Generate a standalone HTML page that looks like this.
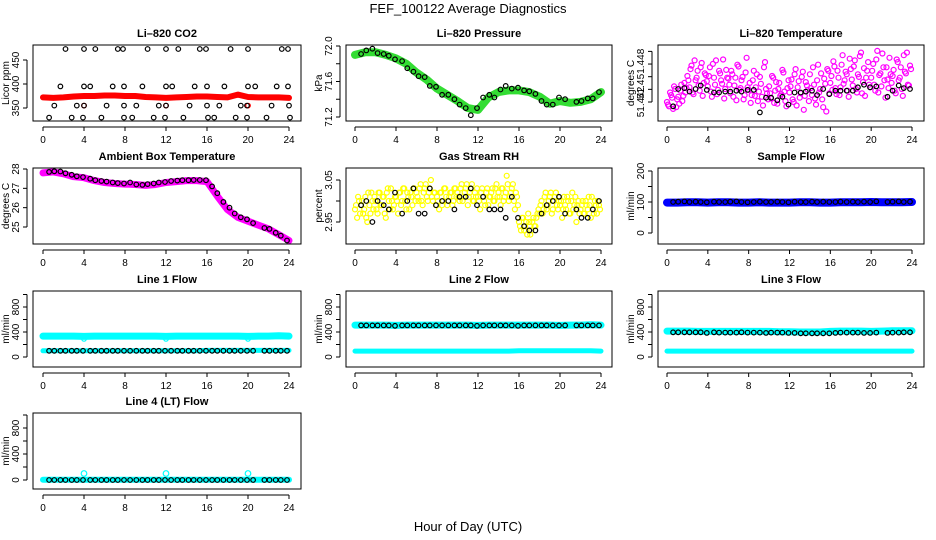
<!DOCTYPE html>
<html><head><meta charset="utf-8">
<style>
html,body{margin:0;padding:0;background:#fff;}
svg{display:block;font-family:"Liberation Sans",Arial,sans-serif;}
.tk{font-size:10px;}
.tt{font-size:11px;font-weight:bold;}
</style></head>
<body>
<svg id="chart" width="936" height="540" viewBox="0 0 936 540" xmlns="http://www.w3.org/2000/svg">
<rect x="0" y="0" width="936" height="540" fill="#fff"/>
<text x="468" y="13" text-anchor="middle" font-size="13">FEF_100122  Average Diagnostics</text>
<text x="468" y="531" text-anchor="middle" font-size="13">Hour of Day (UTC)</text>
</svg>
<script>
// ---- data ----
const xTicks = [0,4,8,12,16,20,24];
const bandHours = [0,1,2,3,4,5,6,7,8,9,10,11,12,13,14,15,16,17,18,19,20,21,22,23,24];
const blackHours = [0.6,1.1,1.7,2.2,2.8,3.3,3.9,4.6,5.1,5.7,6.2,6.8,7.3,7.9,8.5,9.1,9.7,10.2,10.8,11.3,11.9,12.5,13.1,13.6,14.2,14.7,15.3,15.9,16.5,17.0,17.6,18.2,18.7,19.3,19.9,20.5,21.6,22.1,22.7,23.2,23.8];

const co2Band = [372,371,372,374,375,375,376,376,375,375,373,372,371,372,373,374,374,373,372,378,373,372,372,372,371];
const co2Hours = [2.2,4.0,5.1,7.3,7.8,10.2,12.0,13.2,15.3,15.9,18.3,20.0,23.3,23.9, 1.7,4.0,4.6,6.8,7.9,9.7,12.0,12.6,14.8,16.0,17.7,20.0,20.7,22.8,23.9, 1.1,3.3,4.0,6.2,7.9,9.1,11.3,12.0,14.3,16.0,17.2,19.3,19.9,22.3,24.0, 0.6,2.8,3.9,5.7,7.9,8.7,10.8,11.9,13.7,16.1,16.7,18.8,19.9,21.8,24.1];
const co2Vals = [473,473,473,473,473,473,473,473,473,473,473,473,473,473, 395,395,395,395,395,395,395,395,395,395,395,395,395,395,395, 355,355,355,355,355,355,355,355,355,355,355,355,355,355,355, 330,330,330,330,330,330,330,330,330,330,330,330,330,330,330];

const presBand = [71.9,71.93,71.93,71.9,71.86,71.8,71.7,71.62,71.52,71.45,71.38,71.3,71.28,71.42,71.48,71.5,71.5,71.48,71.43,71.35,71.38,71.36,71.37,71.4,71.48];
const presBlack = [71.91,71.95,71.97,71.92,71.91,71.89,71.85,71.83,71.75,71.71,71.66,71.65,71.55,71.54,71.45,71.45,71.40,71.34,71.30,71.22,71.30,71.42,71.45,71.42,71.51,71.55,71.52,71.53,71.50,71.49,71.46,71.38,71.34,71.34,71.42,71.40,71.37,71.38,71.41,71.41,71.48];

const tempVals = [51.4430,51.4425,51.4438,51.4422,51.4445,51.4433,51.4428,51.4450,51.4437,51.4441,
51.4460,51.4447,51.4472,51.4439,51.4455,51.4466,51.4443,51.4475,51.4452,51.4461,
51.4448,51.4470,51.4436,51.4458,51.4478,51.4444,51.4463,51.4451,51.4434,51.4467,
51.4457,51.4440,51.4462,51.4449,51.4432,51.4471,51.4446,51.4459,51.4438,51.4481,
51.4444,51.4429,51.4455,51.4437,51.4462,51.4442,51.4451,51.4426,51.4476,51.4440,
51.4448,51.4434,51.4458,51.4443,51.4428,51.4452,51.4439,51.4464,51.4431,51.4446,
51.4441,51.4456,51.4430,51.4468,51.4447,51.4435,51.4459,51.4421,51.4453,51.4444,
51.4462,51.4438,51.4450,51.4427,51.4473,51.4445,51.4433,51.4457,51.4419,51.4466,
51.4452,51.4444,51.4471,51.4439,51.4458,51.4447,51.4484,51.4455,51.4462,51.4436,
51.4468,51.4449,51.4478,51.4441,51.4459,51.4487,51.4453,51.4437,51.4466,51.4450,
51.4458,51.4474,51.4443,51.4489,51.4461,51.4448,51.4470,51.4435,51.4456,51.4481,
51.4452,51.4467,51.4440,51.4476,51.4458,51.4445,51.4484,51.4463,51.4450,51.4472];
const tempVals2 = [51.4427,51.4441,51.4435,51.4448,51.4424,51.4436,51.4443,51.4431,51.4452,51.4446,
51.4455,51.4468,51.4441,51.4478,51.4458,51.4449,51.4470,51.4437,51.4463,51.4454,
51.4460,51.4442,51.4474,51.4450,51.4439,51.4466,51.4455,51.4479,51.4445,51.4458,
51.4450,51.4466,51.4436,51.4458,51.4473,51.4444,51.4455,51.4433,51.4464,51.4447,
51.4452,51.4438,51.4466,51.4447,51.4431,51.4459,51.4436,51.4470,51.4445,51.4433,
51.4440,51.4460,51.4429,51.4453,51.4445,51.4437,51.4467,51.4442,51.4425,51.4455,
51.4448,51.4433,51.4462,51.4426,51.4454,51.4440,51.4465,51.4437,51.4449,51.4431,
51.4446,51.4470,51.4434,51.4455,51.4441,51.4463,51.4424,51.4451,51.4468,51.4440,
51.4460,51.4477,51.4446,51.4466,51.4438,51.4473,51.4451,51.4465,51.4443,51.4480,
51.4456,51.4471,51.4445,51.4462,51.4483,51.4440,51.4469,51.4458,51.4476,51.4447,
51.4466,51.4450,51.4479,51.4441,51.4463,51.4486,51.4455,51.4470,51.4446,51.4462,
51.4460,51.4443,51.4479,51.4455,51.4470,51.4437,51.4465,51.4487,51.4449,51.4468];
const tempBlack = [51.4425,51.4445,51.4446,51.4442,51.4445,51.4449,51.4444,51.4441,51.4441,51.4442,51.4442,51.4443,51.4442,51.4444,51.4444,51.4418,51.4435,51.4435,51.4432,51.4436,51.4427,51.4441,51.4441,51.4442,51.4443,51.4438,51.4445,51.4439,51.4443,51.4443,51.4443,51.4443,51.4447,51.4450,51.4447,51.4448,51.4436,51.4443,51.4449,51.4446,51.4445];
const tempTicks = [51.4430,51.44446,51.44592,51.44738,51.44884];
const tempTickLabels = ['51.442','51.4','','51.448',''];

const ambBand = [27.8,27.85,27.75,27.6,27.55,27.4,27.3,27.25,27.22,27.2,27.15,27.2,27.3,27.35,27.4,27.4,27.35,26.6,25.9,25.5,25.3,25.1,24.9,24.6,24.3];
const ambBlack = [27.85,27.88,27.87,27.78,27.7,27.62,27.58,27.5,27.42,27.38,27.35,27.3,27.27,27.25,27.3,27.2,27.18,27.22,27.25,27.3,27.33,27.38,27.4,27.42,27.42,27.43,27.43,27.42,27.1,26.75,26.3,26.0,25.7,25.5,25.4,25.2,24.95,24.9,24.7,24.55,24.3];

const rhVals = [2.98,2.96,3.00,2.99,2.97,3.01,2.95,2.99,3.02,2.98,
3.00,2.97,3.02,2.99,3.01,2.96,3.03,2.98,3.00,2.99,
3.01,2.97,3.02,3.00,3.03,2.98,3.01,3.02,2.99,3.03,
3.02,3.00,3.04,2.99,3.03,3.01,3.02,3.05,3.00,3.02,
3.01,2.98,3.02,3.00,3.03,2.99,3.01,3.02,3.00,3.03,
3.02,3.00,3.04,3.01,3.03,2.99,3.02,3.04,3.00,3.01,
3.01,2.98,3.03,3.00,3.02,2.99,3.01,3.03,3.00,3.04,
3.02,2.99,3.03,3.01,3.06,3.00,3.02,3.04,2.98,3.01,
2.95,2.93,2.96,2.94,2.92,2.95,2.93,2.96,2.94,2.97,
2.97,3.00,2.98,3.02,2.99,3.01,2.97,3.00,3.02,2.98,
2.99,2.96,3.01,2.98,3.00,2.97,3.02,2.99,2.95,3.00,
2.98,3.00,2.97,2.99,3.01,2.96,2.98,3.00,2.97,2.99];
const rhVals2 = [2.99,3.01,2.97,3.00,2.98,2.96,3.02,2.97,3.00,3.01,
2.98,3.02,2.99,3.01,2.97,3.02,3.00,3.03,2.98,3.01,
3.00,3.02,2.99,3.03,3.00,3.02,2.98,3.01,3.03,3.00,
3.01,3.03,3.00,3.02,3.04,3.00,3.03,3.01,3.02,2.99,
3.00,3.02,2.99,3.03,3.01,3.00,3.02,2.99,3.03,3.01,
3.01,3.03,3.00,3.02,3.04,3.01,3.03,3.00,3.02,3.03,
3.00,3.02,3.01,2.99,3.03,3.01,3.02,3.00,3.03,3.01,
3.01,3.03,3.00,3.02,3.04,3.01,3.03,3.00,3.02,2.99,
2.94,2.96,2.93,2.95,2.97,2.92,2.95,2.94,2.96,2.98,
2.99,2.97,3.01,2.98,3.00,3.02,2.98,3.01,2.99,3.00,
3.00,2.98,2.99,3.01,2.97,3.00,2.98,3.01,2.99,2.97,
2.99,2.97,3.00,2.98,2.99,3.01,2.97,2.99,3.00,2.98];
const rhBlack = [2.99,3.00,2.95,3.00,2.99,2.98,3.02,2.97,3.00,3.03,2.97,2.97,3.03,2.99,3.00,3.00,2.98,3.01,3.01,3.03,2.99,3.01,2.98,2.98,2.98,2.96,3.01,2.96,2.94,2.93,2.93,2.97,2.99,3.00,3.01,2.97,2.98,2.96,2.96,2.98,3.00];

const sampleBand = [98,98,99,99,98,99,99,98,98,99,98,98,98,99,99,98,98,99,99,99,100,99,99,99,100];
const sampleBlack = [100,101,102,100,101,100,99,101,100,100,101,102,100,99,100,101,100,100,101,100,99,101,100,100,101,100,101,100,100,101,100,101,100,101,100,102,100,101,102,100,101];
const line1Upper = [335,335,335,335,330,335,335,335,335,335,335,335,330,335,335,335,335,335,335,335,330,335,335,340,335];
const line1Lower = [100,100,100,100,100,100,100,100,100,100,100,100,100,100,100,100,105,105,105,105,105,105,105,105,105];
const line1Black = [100,100,100,100,100,100,100,100,100,100,100,100,100,100,100,100,100,100,100,100,100,100,100,100,100,100,100,100,100,100,100,100,100,100,100,100,100,100,100,100,100];
const line2Upper = [510,510,510,510,505,510,510,510,510,510,510,510,505,510,510,510,510,510,510,510,505,510,510,515,510];
const line2Lower = [95,95,95,95,95,95,95,95,95,95,95,95,95,95,95,95,100,100,100,100,100,100,100,100,95];
const line2Black = [505,505,505,505,505,505,500,505,505,505,505,505,505,505,505,505,505,505,505,505,500,505,505,505,505,505,505,500,505,505,505,505,505,505,505,505,505,505,505,505,505];
const line3Upper = [415,415,415,410,410,410,410,410,410,410,410,405,405,400,400,400,410,415,415,415,410,415,420,420,420];
const line3Lower = [95,95,95,95,95,95,95,95,95,95,95,95,95,95,95,95,95,95,95,95,95,95,95,95,95];
const line3Black = [395,395,395,395,395,395,385,395,390,390,390,390,395,390,390,390,385,390,390,390,385,385,380,380,380,380,380,380,385,390,390,390,390,385,385,390,385,390,390,395,395];
const line4Band = [5,5,5,5,5,5,5,5,5,5,5,5,5,5,5,5,5,5,5,5,5,5,5,5,5];
const line4Black = [0,0,0,0,0,0,0,0,0,0,0,0,0,0,0,0,0,0,0,0,0,0,0,0,0,0,0,0,0,0,0,0,0,0,0,0,0,0,0,0,0];
const spikeHours = [4,12,20];
const line1Spikes = [290,290,290];
const line4Spikes = [100,100,100];

const flowTicks = [0,200,400,600,800,1000];
const flowLabels = ['0','','400','','800',''];

// ---- layout ----
const svg = document.getElementById('chart');
const NS = 'http://www.w3.org/2000/svg';
const COLS = [{bx0:33,bx1:301,h0:43,h24:289},{bx0:346,bx1:612,h0:355,h24:601},{bx0:658,bx1:924,h0:667,h24:912}];
const ROWS = [{t:45,b:121},{t:168,b:244},{t:291,b:367},{t:413,b:489}];

function mk(tag, attrs, parent){const e=document.createElementNS(NS,tag);for(const k in attrs)e.setAttribute(k,attrs[k]);(parent||svg).appendChild(e);return e;}

function panel(name, title, ytitle, col, row, v0, p0, v1, p1, ticks, labels){
  const C=COLS[col], R=ROWS[row];
  const g=mk('g',{});
  
  
  const xs=h=>C.h0+(C.h24-C.h0)*h/24;
  const ys=v=>p0+(p1-p0)*(v-v0)/(v1-v0);
  const plot=mk('g',{},g);
  
  
  const box=mk('rect',{x:C.bx0,y:R.t,width:C.bx1-C.bx0,height:R.b-R.t,fill:'none',stroke:'#000','stroke-width':1},g);
  
  
  const t=mk('text',{x:(C.bx0+C.bx1)/2,y:R.t-8,'text-anchor':'middle',class:'tt'},g);
  t.textContent=title;
  
  
  const xa=mk('g',{},g);
  
  
  mk('line',{x1:xs(xTicks[0]),x2:xs(xTicks[xTicks.length-1]),y1:R.b+6,y2:R.b+6,stroke:'#000'},xa);
  xTicks.forEach(v=>{
    mk('line',{x1:xs(v),x2:xs(v),y1:R.b+6,y2:R.b+10,stroke:'#000'},xa);
    const l=mk('text',{x:xs(v),y:R.b+22,'text-anchor':'middle',class:'tk'},xa);
    l.textContent=v;
    
    
  });
  const ya=mk('g',{},g);
  
  
  const yv=ticks.map(ys);
  mk('line',{x1:C.bx0-6,x2:C.bx0-6,y1:Math.min(...yv),y2:Math.max(...yv),stroke:'#000'},ya);
  ticks.forEach((v,i)=>{
    const y=ys(v);
    mk('line',{x1:C.bx0-10,x2:C.bx0-6,y1:y,y2:y,stroke:'#000'},ya);
    if(labels[i]){
      const l=mk('text',{x:0,y:0,'text-anchor':'middle',class:'tk',transform:`translate(${C.bx0-14},${y}) rotate(-90)`},ya);
      l.textContent=labels[i];
      
      
    }
  });
  const yt=mk('text',{x:0,y:0,'text-anchor':'middle',class:'tk',transform:`translate(${C.bx0-24},${(R.t+R.b)/2}) rotate(-90)`},g);
  yt.textContent=ytitle;
  
  
  return {xs,ys,plot};
}
function band(P, hours, vals, color, w, name){
  const d=hours.map((h,i)=>(i?'L':'M')+P.xs(h).toFixed(1)+','+P.ys(vals[i]).toFixed(1)).join('');
  const p=mk('path',{d:d,fill:'none',stroke:color,'stroke-width':w,'stroke-linejoin':'round','stroke-linecap':'round'},P.plot);
  
  
}
function pts(P, hours, vals, color, name, r){
  const g=mk('g',{},P.plot);
  
  
  vals.forEach((v,i)=>{
    const c=mk('circle',{cx:P.xs(hours[i]).toFixed(1),cy:P.ys(v).toFixed(1),r:r||2.3,fill:'none',stroke:color,'stroke-width':1.2},g);
    
    
  });
}
const cloudHours = tempVals.map((_,i)=>i*0.2);
const cloudHours2 = tempVals2.map((_,i)=>i*0.2+0.1);

let P=panel('co2','Li\u2013820 CO2','Licor ppm',0,0,350,108,450,60,[350,400,450],['350','400','450']);
band(P,bandHours,co2Band,'#ff0000',6,'co2-band');
pts(P,spikeHours,[355,355,355],'#ff0000','co2-red-outliers');
pts(P,co2Hours,co2Vals,'#000','co2-hourly-points');

P=panel('pressure','Li\u2013820 Pressure','kPa',1,0,71.2,117,72.0,46,[71.2,71.4,71.6,71.8,72.0],['71.2','','71.6','','72.0']);
band(P,bandHours,presBand,'#33dd33',8,'pressure-band');
pts(P,blackHours,presBlack,'#000','pressure-hourly-points');

P=panel('li820-temp','Li\u2013820 Temperature','degrees C',2,0,51.443,102,51.4475,63,tempTicks,tempTickLabels);
pts(P,cloudHours,tempVals,'#ff00ff','temp-cloud-a',2.5);
pts(P,cloudHours2,tempVals2,'#ff00ff','temp-cloud-b',2.5);
pts(P,blackHours,tempBlack,'#000','temp-hourly-points');

P=panel('ambient','Ambient Box Temperature','degrees C',0,1,25,227,28,169,[25,26,27,28],['25','26','27','28']);
band(P,bandHours,ambBand,'#ff00ff',7,'ambient-band');
pts(P,blackHours,ambBlack,'#000','ambient-hourly-points');

P=panel('rh','Gas Stream RH','percent',1,1,2.95,222,3.05,180,[2.95,3.00,3.05],['2.95','','3.05']);
pts(P,cloudHours,rhVals,'#ffff00','rh-cloud-a',2.5);
pts(P,cloudHours2,rhVals2,'#ffff00','rh-cloud-b',2.5);
pts(P,blackHours,rhBlack,'#000','rh-hourly-points');

P=panel('sample-flow','Sample Flow','ml/min',2,1,0,233,200,171,[0,50,100,150,200],['0','','100','','200']);
band(P,bandHours,sampleBand,'#0000ff',8,'sample-flow-band');
pts(P,blackHours,sampleBlack,'#000','sample-flow-hourly-points');

P=panel('line1','Line 1 Flow','ml/min',0,2,0,357,800,307,flowTicks,flowLabels);
band(P,bandHours,line1Upper,'#00ffff',7,'line1-upper-band');
band(P,bandHours,line1Lower,'#00ffff',5,'line1-lower-band');
pts(P,spikeHours,line1Spikes,'#00ffff','line1-dips');
pts(P,blackHours,line1Black,'#000','line1-hourly-points');

P=panel('line2','Line 2 Flow','ml/min',1,2,0,357,800,307,flowTicks,flowLabels);
band(P,bandHours,line2Upper,'#00ffff',7,'line2-upper-band');
band(P,bandHours,line2Lower,'#00ffff',5,'line2-lower-band');
pts(P,blackHours,line2Black,'#000','line2-hourly-points');

P=panel('line3','Line 3 Flow','ml/min',2,2,0,357,800,307,flowTicks,flowLabels);
band(P,bandHours,line3Upper,'#00ffff',7,'line3-upper-band');
band(P,bandHours,line3Lower,'#00ffff',5,'line3-lower-band');
pts(P,blackHours,line3Black,'#000','line3-hourly-points');

P=panel('line4','Line 4 (LT) Flow','ml/min',0,3,0,480,800,428,flowTicks,flowLabels);
band(P,bandHours,line4Band,'#00ffff',6,'line4-band');
pts(P,spikeHours,line4Spikes,'#00ffff','line4-spikes',2.8);
pts(P,blackHours,line4Black,'#000','line4-hourly-points');
</script>
</body></html>
